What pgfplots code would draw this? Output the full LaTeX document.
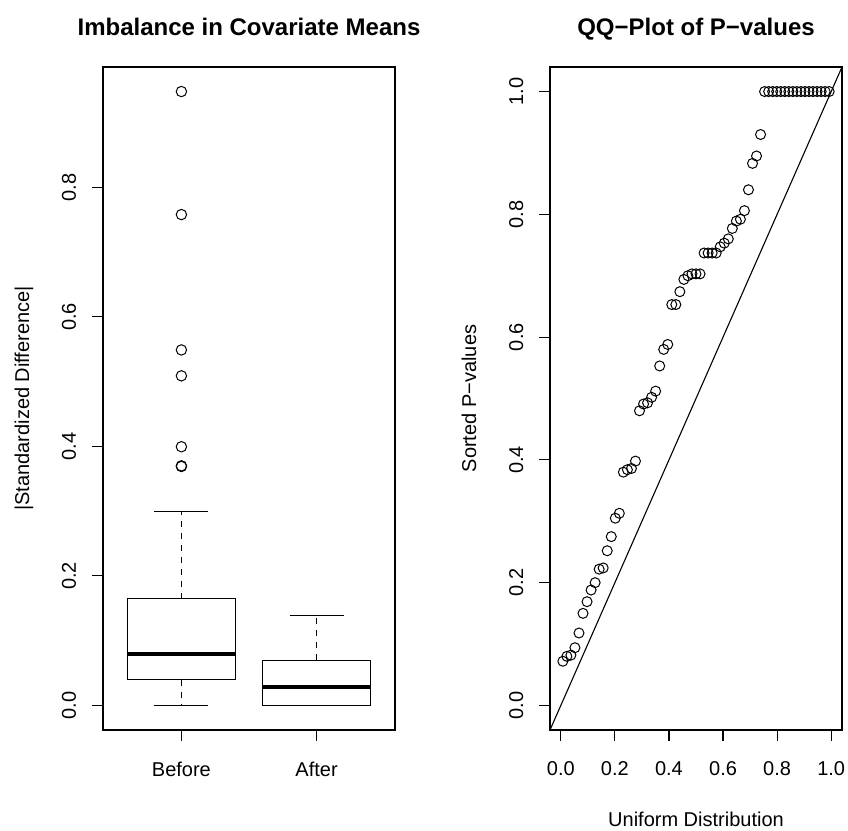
\documentclass[border=0pt]{standalone}
\usepackage{fontspec}
\setmainfont{Liberation Sans}
\usepackage{pgfplots}
\pgfplotsset{compat=1.18}

\pgfplotsset{
  rstyle/.style={
    scale only axis, width=292bp, height=663bp, anchor=south west,
    axis line style={line width=1.1bp, black},
    every tick/.style={line width=1.1bp, black},
    major tick length=11bp,
    tick align=outside,
    xtick pos=bottom, ytick pos=left,
    /pgf/number format/assume math mode=true,
    /pgf/number format/fixed, /pgf/number format/fixed zerofill, /pgf/number format/precision=1,
    ticklabel style={font=\fontsize{20bp}{24bp}\selectfont, inner sep=0pt},
    xticklabel style={anchor=base},
    xticklabel shift=35bp,
    yticklabel style={rotate=90, anchor=base},
    yticklabel shift=16bp,
    title style={at={(axis description cs:0.5,1)}, anchor=base, yshift=26bp, inner sep=0pt,
      font=\bfseries\fontsize{24bp}{28bp}\selectfont},
    every axis x label/.style={at={(axis description cs:0.5,0)}, anchor=base, yshift=-96bp, inner sep=0pt,
      font=\fontsize{20bp}{24bp}\selectfont},
    every axis y label/.style={at={(axis description cs:-0.2534,0.5)}, rotate=90, anchor=base, inner sep=0pt,
      font=\fontsize{20bp}{24bp}\selectfont},
  }
}

\begin{document}
\fontsize{20bp}{24bp}\selectfont
\begin{tikzpicture}
\path[use as bounding box] (0,0) rectangle (848bp,831bp);

% ---------- Left: boxplot ----------
\begin{axis}[rstyle, at={(103bp,101bp)},
  xmin=0.42, xmax=2.58, ymin=-0.0379, ymax=0.9859,
  xtick={1,2}, xticklabels={Before,After},
  ytick={0,0.2,0.4,0.6,0.8},
  title={Imbalance in Covariate Means},
  ylabel={|Standardized Difference|},
]
% Before
\addplot[black, line width=1.1bp, dash pattern=on 6bp off 6bp] coordinates {(1,0.165) (1,0.30)};
\addplot[black, line width=1.1bp, dash pattern=on 6bp off 6bp] coordinates {(1,0.04) (1,0)};
\addplot[black, line width=1.1bp] coordinates {(0.8,0.30) (1.2,0.30)};
\addplot[black, line width=1.1bp] coordinates {(0.8,0) (1.2,0)};
\addplot[black, line width=1.1bp] coordinates {(0.6,0.04) (1.4,0.04) (1.4,0.165) (0.6,0.165)} -- cycle;
\addplot[black, line width=3.8bp] coordinates {(0.6,0.080) (1.4,0.080)};
\addplot[black, only marks, mark=o, mark size=5.2bp, mark options={line width=1bp}]
  coordinates {(1,0.948) (1,0.758) (1,0.549) (1,0.509) (1,0.3995) (1,0.369) (1,0.370)};
% After
\addplot[black, line width=1.1bp, dash pattern=on 6bp off 6bp] coordinates {(2,0.0695) (2,0.139)};
\addplot[black, line width=1.1bp] coordinates {(1.8,0.139) (2.2,0.139)};
\addplot[black, line width=1.1bp] coordinates {(1.8,0) (2.2,0)};
\addplot[black, line width=1.1bp] coordinates {(1.6,0) (2.4,0) (2.4,0.0695) (1.6,0.0695)} -- cycle;
\addplot[black, line width=3.8bp] coordinates {(1.6,0.029) (2.4,0.029)};
\end{axis}

% ---------- Right: QQ plot ----------
\begin{axis}[rstyle, at={(550bp,101bp)},
  xmin=-0.04, xmax=1.04, ymin=-0.04, ymax=1.04,
  xtick={0,0.2,0.4,0.6,0.8,1}, ytick={0,0.2,0.4,0.6,0.8,1},
  title={QQ−Plot of P−values},
  xlabel={Uniform Distribution},
  ylabel={Sorted P−values},
]
\addplot[black, line width=1.1bp] coordinates {(-0.04,-0.04) (1.04,1.04)};
\addplot[black, only marks, mark=o, mark size=5bp, mark options={line width=1bp}] table[row sep=\\] {
x y\\
0.0075 0.072\\ 0.0224 0.080\\ 0.0373 0.082\\ 0.0522 0.094\\ 0.0672 0.118\\
0.0821 0.150\\ 0.0970 0.169\\ 0.1119 0.188\\ 0.1269 0.200\\ 0.1418 0.222\\
0.1567 0.224\\ 0.1716 0.252\\ 0.1866 0.275\\ 0.2015 0.305\\ 0.2164 0.313\\
0.2313 0.380\\ 0.2463 0.384\\ 0.2612 0.386\\ 0.2761 0.398\\ 0.2910 0.480\\
0.3060 0.491\\ 0.3209 0.493\\ 0.3358 0.502\\ 0.3507 0.512\\ 0.3657 0.553\\
0.3806 0.580\\ 0.3955 0.588\\ 0.4104 0.653\\ 0.4254 0.653\\ 0.4403 0.674\\
0.4552 0.694\\ 0.4701 0.700\\ 0.4851 0.703\\ 0.5000 0.703\\ 0.5149 0.703\\
0.5299 0.737\\ 0.5448 0.737\\ 0.5597 0.737\\ 0.5746 0.737\\ 0.5896 0.747\\
0.6045 0.753\\ 0.6194 0.760\\ 0.6343 0.777\\ 0.6493 0.789\\ 0.6642 0.792\\
0.6791 0.806\\ 0.6940 0.840\\ 0.7090 0.883\\ 0.7239 0.895\\ 0.7388 0.930\\
0.7537 1.0\\ 0.7687 1.0\\ 0.7836 1.0\\ 0.7985 1.0\\ 0.8134 1.0\\
0.8284 1.0\\ 0.8433 1.0\\ 0.8582 1.0\\ 0.8731 1.0\\ 0.8881 1.0\\
0.9030 1.0\\ 0.9179 1.0\\ 0.9328 1.0\\ 0.9478 1.0\\ 0.9627 1.0\\
0.9776 1.0\\ 0.9925 1.0\\
};
\end{axis}
\end{tikzpicture}
\end{document}
